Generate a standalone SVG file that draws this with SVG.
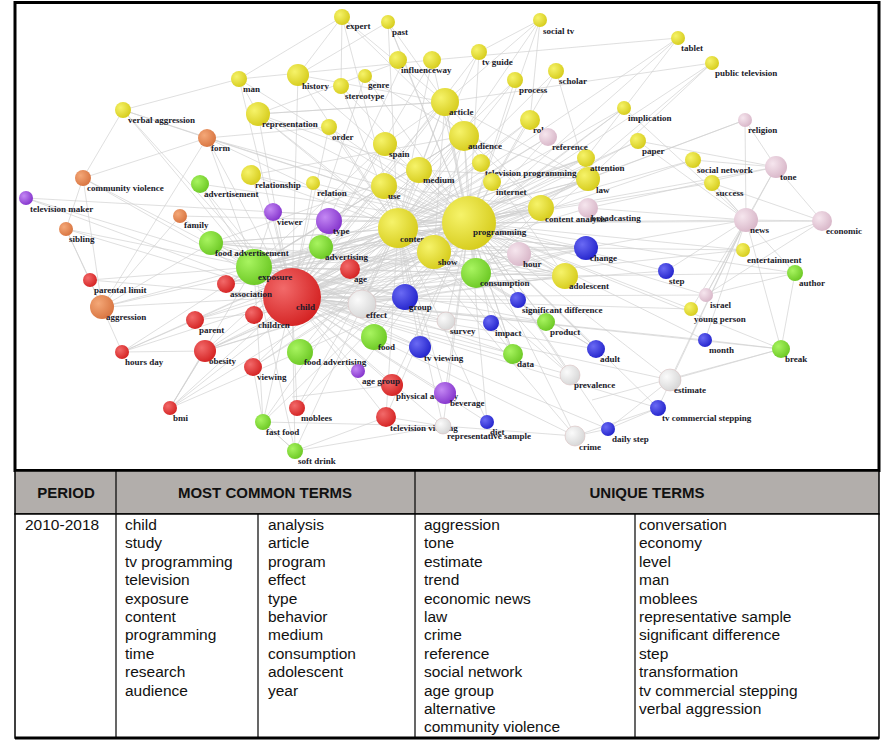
<svg xmlns="http://www.w3.org/2000/svg" width="886" height="741" viewBox="0 0 886 741">
<defs>
<radialGradient id="gy" cx="35%" cy="35%" r="70%"><stop offset="0" stop-color="#f6f36a"/><stop offset="1" stop-color="#d6cc1c"/></radialGradient>
<radialGradient id="gr" cx="35%" cy="35%" r="70%"><stop offset="0" stop-color="#f26a6a"/><stop offset="1" stop-color="#d42222"/></radialGradient>
<radialGradient id="gg" cx="35%" cy="35%" r="70%"><stop offset="0" stop-color="#a8f460"/><stop offset="1" stop-color="#6cc824"/></radialGradient>
<radialGradient id="gb" cx="35%" cy="35%" r="70%"><stop offset="0" stop-color="#6a6af4"/><stop offset="1" stop-color="#2424cc"/></radialGradient>
<radialGradient id="gp" cx="35%" cy="35%" r="70%"><stop offset="0" stop-color="#c488f4"/><stop offset="1" stop-color="#8434cc"/></radialGradient>
<radialGradient id="gk" cx="35%" cy="35%" r="70%"><stop offset="0" stop-color="#f6e6ee"/><stop offset="1" stop-color="#d8b6c8"/></radialGradient>
<radialGradient id="gw" cx="35%" cy="35%" r="70%"><stop offset="0" stop-color="#fbfbfb"/><stop offset="1" stop-color="#d6d6d6"/></radialGradient>
<radialGradient id="go" cx="35%" cy="35%" r="70%"><stop offset="0" stop-color="#f4a878"/><stop offset="1" stop-color="#d87440"/></radialGradient>
</defs>
<style>
.e{stroke:#cfcfcf;stroke-width:0.8;fill:none;opacity:0.85}
.y{fill:url(#gy)}.r{fill:url(#gr)}.g{fill:url(#gg)}.b{fill:url(#gb)}.p{fill:url(#gp)}.k{fill:url(#gk)}.w{fill:url(#gw);stroke:#d8c0c0;stroke-width:0.6}.o{fill:url(#go)}
.l{font-family:"Liberation Serif",serif;font-weight:bold;font-size:9px;fill:#1a1a2a}
.t{font-family:"Liberation Sans",Arial,sans-serif;font-size:15.5px;fill:#111}
.h{font-family:"Liberation Sans",Arial,sans-serif;font-size:15px;font-weight:bold;fill:#111;text-anchor:middle}
</style>
<rect x="0" y="0" width="886" height="741" fill="#fff"/>
<g id="connectors">
<path class="e" d="M292 297L469 223M292 297L398 228M292 297L434 252M292 297L254 267M292 297L464 136M292 297L445 102M292 297L384 186M292 297L419 170M292 297L476 273M292 297L362 304M292 297L405 297M469 223L398 228M469 223L434 252M469 223L254 267M469 223L464 136M469 223L445 102M469 223L384 186M469 223L419 170M469 223L476 273M469 223L362 304M469 223L405 297M398 228L434 252M398 228L254 267M398 228L464 136M398 228L445 102M398 228L476 273M398 228L362 304M398 228L405 297M434 252L254 267M434 252L464 136M434 252L445 102M434 252L384 186M434 252L362 304M254 267L464 136M254 267L384 186M254 267L362 304M254 267L405 297M464 136L384 186M464 136L476 273M445 102L419 170M445 102L476 273M384 186L476 273M419 170L362 304M476 273L405 297M362 304L405 297"/>
<path class="e" d="M342 17L445 102M342 17L398 228M342 17L298 75M342 17L239 79M342 17L464 136M342 17L341 86M388 22L469 223M388 22L445 102M388 22L404 60M388 22L398 228M388 22L298 75M404 60L469 223M404 60L292 297M404 60L258 114M432 60L469 223M432 60L398 228M432 60L292 297M239 79L123 110M239 79L258 114M239 79L469 223M239 79L292 297M239 79L432 60M298 75L469 223M298 75L398 228M298 75L292 297M298 75L445 102M341 86L469 223M341 86L398 228M365 76L469 223M365 76L292 297M365 76L464 136M123 110L207 138M123 110L292 297M123 110L469 223M123 110L254 267M258 114L469 223M258 114L398 228M258 114L292 297M258 114L445 102M258 114L434 252M329 127L469 223M329 127L292 297M329 127L398 228M329 127L207 138M385 144L469 223M385 144L292 297M385 144L254 267M385 144L445 102"/>
<path class="e" d="M540 20L469 223M540 20L445 102M540 20L398 228M540 20L479 52M540 20L530 120M678 38L469 223M678 38L586 158M678 38L398 228M678 38L432 60M712 63L469 223M712 63L541 208M712 63L588 179M712 63L445 102M479 52L469 223M479 52L292 297M479 52L398 228M556 71L469 223M556 71L398 228M556 71L588 179M515 80L469 223M515 80L292 297M515 80L398 228M624 108L469 223M624 108L292 297M624 108L746 220M624 108L434 252M530 120L469 223M530 120L292 297M530 120L398 228M745 120L776 167M745 120L746 220M745 120L469 223M745 120L588 179M548 137L469 223M548 137L292 297M548 137L398 228M638 141L469 223M638 141L292 297M638 141L776 167M638 141L746 220M586 158L469 223M586 158L292 297M586 158L398 228M693 160L776 167M693 160L469 223M693 160L746 220M693 160L292 297M776 167L746 220M776 167L822 221M776 167L469 223M776 167L588 208M776 167L706 295M481 163L292 297M481 163L398 228M588 179L292 297M588 179L398 228M588 179L254 267M492 182L292 297M492 182L254 267M712 183L469 223M712 183L746 220M712 183L822 221M541 208L292 297M541 208L398 228M588 208L292 297M588 208L746 220M746 220L822 221M746 220L469 223M746 220L706 295M746 220L586 248M822 221L469 223M822 221L706 295M822 221L743 250"/>
<path class="e" d="M83 178L123 110M83 178L292 297M83 178L254 267M83 178L207 138M83 178L66 229M83 178L102 307M26 198L292 297M26 198L254 267M26 198L469 223M207 138L292 297M207 138L469 223M207 138L254 267M207 138L398 228M207 138L102 307M200 184L292 297M200 184L469 223M200 184L254 267M251 175L292 297M251 175L469 223M251 175L398 228M313 183L292 297M313 183L469 223M180 216L292 297M180 216L469 223M180 216L102 307M273 212L469 223M273 212L292 297M329 221L469 223M329 221L292 297M66 229L292 297M66 229L254 267M66 229L90 280M66 229L102 307M211 243L292 297M211 243L469 223M211 243L102 307M321 247L469 223M90 280L292 297M90 280L102 307M90 280L254 267M102 307L292 297M102 307L469 223M102 307L122 352M102 307L398 228M226 284L469 223M226 284L398 228M350 269L469 223M195 320L469 223M195 320L398 228M195 320L122 352M254 315L469 223M122 352L292 297M122 352L254 267M122 352L205 351M122 352L398 228M205 351L469 223M205 351L398 228M205 351L170 408M253 367L469 223M253 367L398 228M253 367L263 422M300 352L469 223M300 352L398 228M374 337L469 223M420 347L292 297M420 347L398 228M358 371L292 297M358 371L469 223M392 385L292 397M392 385L292 297M392 385L469 223M170 408L292 297M170 408L254 267M170 408L469 223M170 408L205 351M170 408L300 352M170 408L398 228M297 408L292 297M297 408L469 223M297 408L398 228M263 422L292 297M263 422L398 228M263 422L254 267M263 422L295 451M263 422L469 223M295 451L292 297M295 451L263 422M295 451L254 267M295 451L443 426M295 451L398 228M295 451L386 417M386 417L292 297M386 417L469 223M386 417L398 228"/>
<path class="e" d="M586 248L292 297M586 248L398 228M586 248L254 267M519 254L292 297M519 254L398 228M476 273L254 267M565 276L292 297M565 276L398 228M565 276L254 267M743 250L469 223M743 250L292 297M743 250L586 248M666 271L469 223M666 271L292 297M666 271L746 220M795 273L746 220M795 273L469 223M795 273L781 349M795 273L565 276M795 273L706 295M518 300L292 297M518 300L398 228M706 295L469 223M706 295L292 297M691 309L469 223M691 309L292 297M691 309L746 220M446 321L292 297M446 321L469 223M491 323L292 297M491 323L469 223M546 322L292 297M546 322L469 223M705 340L469 223M705 340L292 297M705 340L746 220M705 340L781 349M596 349L292 297M596 349L469 223M596 349L398 228M781 349L469 223M781 349L592 400M781 349L670 380M781 349L746 220M781 349L292 297M513 354L292 297M513 354L469 223M570 375L292 297M570 375L469 223M570 375L398 228M670 380L469 223M670 380L292 297M670 380L746 220M670 380L608 429M445 393L292 297M445 393L469 223M445 393L398 228M658 408L469 223M658 408L292 297M658 408L575 436M658 408L608 429M658 408L746 220M487 422L292 297M487 422L469 223M487 422L398 228M608 429L469 223M608 429L292 297M608 429L575 436M575 436L469 223M575 436L292 297M575 436L398 228M575 436L443 426M443 426L292 297M443 426L469 223M443 426L398 228M443 426L386 417M443 426L263 422"/>
<path class="e" d="M384 186L207 138M419 170L258 114M445 102L258 114M464 136L251 175M469 223L211 243M398 228L226 284M434 252L195 320M434 252L205 351M434 252L253 367M476 273L300 352M476 273L226 284M476 273L211 243M405 297L195 320M405 297L211 243M362 304L211 243M362 304L205 351M384 186L205 351M419 170L211 243M464 136L226 284M445 102L254 315M541 208L254 267M588 179L205 351M586 248L211 243M519 254L205 351M565 276L211 243M546 322L254 267M513 354L254 267M446 321L254 267M420 347L254 267M374 337L254 267M300 352L254 267M350 269L254 267M321 247L254 267M329 221L254 267M273 212L254 267M469 223L541 208M469 223L588 179M469 223L586 248M469 223L519 254M469 223L565 276M469 223L546 322M469 223L513 354M469 223L596 349M398 228L541 208M398 228L586 158M398 228L586 248M398 228L565 276M434 252L588 179M434 252L541 208M434 252L586 248M434 252L565 276M434 252L596 349M434 252L513 354M476 273L586 248M476 273L565 276M476 273L541 208M476 273L588 179M476 273L570 375M476 273L513 354M464 136L541 208M464 136L588 179M464 136L565 276M445 102L588 179M445 102L541 208M419 170L588 179M419 170L565 276M384 186L541 208M384 186L565 276M405 297L586 248M405 297L565 276M362 304L565 276M362 304L541 208M254 267L541 208M254 267L586 158"/>
</g>
<g id="nodes">
<g id="n-child"><circle class="r" cx="292" cy="297" r="29"/><text class="l" x="296" y="310">child</text></g>
<g id="n-programming"><circle class="y" cx="469" cy="223" r="27"/><text class="l" x="473" y="235">programming</text></g>
<g id="n-content"><circle class="y" cx="398" cy="228" r="20"/><text class="l" x="400" y="242">content</text></g>
<g id="n-exposure"><circle class="g" cx="254" cy="267" r="18"/><text class="l" x="258" y="280">exposure</text></g>
<g id="n-show"><circle class="y" cx="434" cy="252" r="17"/><text class="l" x="438" y="265">show</text></g>
<g id="n-consumption"><circle class="g" cx="476" cy="273" r="15"/><text class="l" x="480" y="286">consumption</text></g>
<g id="n-audience"><circle class="y" cx="464" cy="136" r="15"/><text class="l" x="468" y="149">audience</text></g>
<g id="n-article"><circle class="y" cx="445" cy="102" r="14"/><text class="l" x="449" y="115">article</text></g>
<g id="n-effect"><circle class="w" cx="362" cy="304" r="14"/><text class="l" x="366" y="318">effect</text></g>
<g id="n-medium"><circle class="y" cx="419" cy="170" r="13"/><text class="l" x="423" y="183">medium</text></g>
<g id="n-use"><circle class="y" cx="384" cy="186" r="13"/><text class="l" x="388" y="199">use</text></g>
<g id="n-type"><circle class="p" cx="329" cy="221" r="13"/><text class="l" x="333" y="234">type</text></g>
<g id="n-contentanalysis"><circle class="y" cx="541" cy="208" r="13"/><text class="l" x="545" y="222">content analysis</text></g>
<g id="n-adolescent"><circle class="y" cx="565" cy="276" r="13"/><text class="l" x="569" y="289">adolescent</text></g>
<g id="n-food"><circle class="g" cx="374" cy="337" r="13"/><text class="l" x="378" y="350">food</text></g>
<g id="n-foodadvertising"><circle class="g" cx="300" cy="352" r="13"/><text class="l" x="304" y="365">food advertising</text></g>
<g id="n-group"><circle class="b" cx="405" cy="297" r="13"/><text class="l" x="409" y="310">group</text></g>
<g id="n-representation"><circle class="y" cx="258" cy="114" r="12"/><text class="l" x="262" y="127">representation</text></g>
<g id="n-spain"><circle class="y" cx="385" cy="144" r="12"/><text class="l" x="389" y="157">spain</text></g>
<g id="n-law"><circle class="y" cx="588" cy="179" r="12"/><text class="l" x="596" y="193">law</text></g>
<g id="n-foodadvertisement"><circle class="g" cx="211" cy="243" r="12"/><text class="l" x="215" y="256">food advertisement</text></g>
<g id="n-advertising"><circle class="g" cx="321" cy="247" r="12"/><text class="l" x="325" y="260">advertising</text></g>
<g id="n-hour"><circle class="k" cx="519" cy="254" r="12"/><text class="l" x="523" y="267">hour</text></g>
<g id="n-change"><circle class="b" cx="586" cy="248" r="12"/><text class="l" x="590" y="261">change</text></g>
<g id="n-news"><circle class="k" cx="746" cy="220" r="12"/><text class="l" x="750" y="233">news</text></g>
<g id="n-aggression"><circle class="o" cx="102" cy="307" r="12"/><text class="l" x="106" y="320">aggression</text></g>
<g id="n-history"><circle class="y" cx="298" cy="75" r="11"/><text class="l" x="302" y="89">history</text></g>
<g id="n-tone"><circle class="k" cx="776" cy="167" r="11"/><text class="l" x="780" y="180">tone</text></g>
<g id="n-estimate"><circle class="w" cx="670" cy="380" r="11"/><text class="l" x="674" y="393">estimate</text></g>
<g id="n-tvviewing"><circle class="b" cx="420" cy="347" r="11"/><text class="l" x="424" y="361">tv viewing</text></g>
<g id="n-obesity"><circle class="r" cx="205" cy="351" r="11"/><text class="l" x="209" y="364">obesity</text></g>
<g id="n-physicalactivity"><circle class="r" cx="392" cy="385" r="11"/><text class="l" x="396" y="399">physical activity</text></g>
<g id="n-beverage"><circle class="p" cx="445" cy="393" r="11"/><text class="l" x="450" y="406">beverage</text></g>
<g id="n-relationship"><circle class="y" cx="251" cy="175" r="10"/><text class="l" x="255" y="188">relationship</text></g>
<g id="n-role"><circle class="y" cx="530" cy="120" r="10"/><text class="l" x="533" y="133">role</text></g>
<g id="n-broadcasting"><circle class="k" cx="588" cy="208" r="10"/><text class="l" x="591" y="221">broadcasting</text></g>
<g id="n-economic"><circle class="k" cx="822" cy="221" r="10"/><text class="l" x="826" y="234">economic</text></g>
<g id="n-data"><circle class="g" cx="513" cy="354" r="10"/><text class="l" x="517" y="367">data</text></g>
<g id="n-prevalence"><circle class="w" cx="570" cy="375" r="10"/><text class="l" x="574" y="388">prevalence</text></g>
<g id="n-crime"><circle class="w" cx="575" cy="436" r="10"/><text class="l" x="579" y="450">crime</text></g>
<g id="n-age"><circle class="r" cx="350" cy="269" r="10"/><text class="l" x="354" y="282">age</text></g>
<g id="n-televisionviewing"><circle class="r" cx="386" cy="417" r="10"/><text class="l" x="390" y="431">television viewing</text></g>
<g id="n-influence"><circle class="y" cx="398" cy="60" r="9"/><text class="l" x="401" y="73">influence</text></g>
<g id="n-way"><circle class="y" cx="432" cy="60" r="9"/><text class="l" x="436" y="73">way</text></g>
<g id="n-attention"><circle class="y" cx="586" cy="158" r="9"/><text class="l" x="590" y="171">attention</text></g>
<g id="n-tvprogramming"><circle class="y" cx="481" cy="163" r="9"/><text class="l" x="485" y="176">television programming</text></g>
<g id="n-internet"><circle class="y" cx="492" cy="182" r="9"/><text class="l" x="496" y="195">internet</text></g>
<g id="n-form"><circle class="o" cx="207" cy="138" r="9"/><text class="l" x="211" y="151">form</text></g>
<g id="n-viewer"><circle class="p" cx="273" cy="212" r="9"/><text class="l" x="277" y="225">viewer</text></g>
<g id="n-advertisement"><circle class="g" cx="200" cy="184" r="9"/><text class="l" x="204" y="197">advertisement</text></g>
<g id="n-reference"><circle class="k" cx="548" cy="137" r="9"/><text class="l" x="552" y="150">reference</text></g>
<g id="n-survey"><circle class="w" cx="446" cy="321" r="9"/><text class="l" x="450" y="334">survey</text></g>
<g id="n-product"><circle class="g" cx="546" cy="322" r="9"/><text class="l" x="550" y="335">product</text></g>
<g id="n-adult"><circle class="b" cx="596" cy="349" r="9"/><text class="l" x="600" y="362">adult</text></g>
<g id="n-break"><circle class="g" cx="781" cy="349" r="9"/><text class="l" x="785" y="362">break</text></g>
<g id="n-association"><circle class="r" cx="226" cy="284" r="9"/><text class="l" x="230" y="297">association</text></g>
<g id="n-parent"><circle class="r" cx="195" cy="320" r="9"/><text class="l" x="199" y="333">parent</text></g>
<g id="n-children"><circle class="r" cx="254" cy="315" r="9"/><text class="l" x="258" y="328">children</text></g>
<g id="n-viewing"><circle class="r" cx="253" cy="367" r="9"/><text class="l" x="257" y="380">viewing</text></g>
<g id="n-expert"><circle class="y" cx="342" cy="17" r="8"/><text class="l" x="346" y="29">expert</text></g>
<g id="n-man"><circle class="y" cx="239" cy="79" r="8"/><text class="l" x="243" y="92">man</text></g>
<g id="n-stereotype"><circle class="y" cx="341" cy="86" r="8"/><text class="l" x="345" y="99">stereotype</text></g>
<g id="n-verbal"><circle class="y" cx="123" cy="110" r="8"/><text class="l" x="128" y="123">verbal aggression</text></g>
<g id="n-order"><circle class="y" cx="329" cy="127" r="8"/><text class="l" x="332" y="140">order</text></g>
<g id="n-tvguide"><circle class="y" cx="479" cy="52" r="8"/><text class="l" x="482" y="65">tv guide</text></g>
<g id="n-scholar"><circle class="y" cx="556" cy="71" r="8"/><text class="l" x="559" y="84">scholar</text></g>
<g id="n-process"><circle class="y" cx="515" cy="80" r="8"/><text class="l" x="519" y="93">process</text></g>
<g id="n-paper"><circle class="y" cx="638" cy="141" r="8"/><text class="l" x="642" y="154">paper</text></g>
<g id="n-socialnetwork"><circle class="y" cx="693" cy="160" r="8"/><text class="l" x="697" y="173">social network</text></g>
<g id="n-success"><circle class="y" cx="712" cy="183" r="8"/><text class="l" x="716" y="196">success</text></g>
<g id="n-communityviolence"><circle class="o" cx="83" cy="178" r="8"/><text class="l" x="87" y="191">community violence</text></g>
<g id="n-step"><circle class="b" cx="666" cy="271" r="8"/><text class="l" x="669" y="284">step</text></g>
<g id="n-author"><circle class="g" cx="795" cy="273" r="8"/><text class="l" x="799" y="286">author</text></g>
<g id="n-sigdiff"><circle class="b" cx="518" cy="300" r="8"/><text class="l" x="522" y="313">significant difference</text></g>
<g id="n-impact"><circle class="b" cx="491" cy="323" r="8"/><text class="l" x="495" y="336">impact</text></g>
<g id="n-tvcommercial"><circle class="b" cx="658" cy="408" r="8"/><text class="l" x="662" y="421">tv commercial stepping</text></g>
<g id="n-moblees"><circle class="r" cx="297" cy="408" r="8"/><text class="l" x="301" y="421">moblees</text></g>
<g id="n-fastfood"><circle class="g" cx="263" cy="422" r="8"/><text class="l" x="266" y="435">fast food</text></g>
<g id="n-repsample"><circle class="w" cx="443" cy="426" r="8"/><text class="l" x="447" y="439">representative sample</text></g>
<g id="n-softdrink"><circle class="g" cx="295" cy="451" r="8"/><text class="l" x="298" y="464">soft drink</text></g>
<g id="n-past"><circle class="y" cx="388" cy="22" r="7"/><text class="l" x="392" y="35">past</text></g>
<g id="n-genre"><circle class="y" cx="365" cy="76" r="7"/><text class="l" x="368" y="88">genre</text></g>
<g id="n-relation"><circle class="y" cx="313" cy="183" r="7"/><text class="l" x="317" y="196">relation</text></g>
<g id="n-socialtv"><circle class="y" cx="540" cy="20" r="7"/><text class="l" x="543" y="34">social tv</text></g>
<g id="n-tablet"><circle class="y" cx="678" cy="38" r="7"/><text class="l" x="681" y="51">tablet</text></g>
<g id="n-publictv"><circle class="y" cx="712" cy="63" r="7"/><text class="l" x="715" y="76">public television</text></g>
<g id="n-implication"><circle class="y" cx="624" cy="108" r="7"/><text class="l" x="628" y="121">implication</text></g>
<g id="n-entertainment"><circle class="y" cx="743" cy="250" r="7"/><text class="l" x="747" y="263">entertainment</text></g>
<g id="n-youngperson"><circle class="y" cx="691" cy="309" r="7"/><text class="l" x="694" y="322">young person</text></g>
<g id="n-family"><circle class="o" cx="180" cy="216" r="7"/><text class="l" x="184" y="228">family</text></g>
<g id="n-sibling"><circle class="o" cx="66" cy="229" r="7"/><text class="l" x="69" y="242">sibling</text></g>
<g id="n-tvmaker"><circle class="p" cx="26" cy="198" r="7"/><text class="l" x="30" y="212">television maker</text></g>
<g id="n-agegroup"><circle class="p" cx="358" cy="371" r="7"/><text class="l" x="362" y="384">age group</text></g>
<g id="n-religion"><circle class="k" cx="745" cy="120" r="7"/><text class="l" x="748" y="133">religion</text></g>
<g id="n-israel"><circle class="k" cx="706" cy="295" r="7"/><text class="l" x="710" y="308">israel</text></g>
<g id="n-month"><circle class="b" cx="705" cy="340" r="7"/><text class="l" x="709" y="353">month</text></g>
<g id="n-dailystep"><circle class="b" cx="608" cy="429" r="7"/><text class="l" x="612" y="442">daily step</text></g>
<g id="n-diet"><circle class="b" cx="487" cy="422" r="7"/><text class="l" x="490" y="435">diet</text></g>
<g id="n-parentallimit"><circle class="r" cx="90" cy="280" r="7"/><text class="l" x="94" y="293">parental limit</text></g>
<g id="n-hoursday"><circle class="r" cx="122" cy="352" r="7"/><text class="l" x="125" y="365">hours day</text></g>
<g id="n-bmi"><circle class="r" cx="170" cy="408" r="7"/><text class="l" x="173" y="421">bmi</text></g>
</g>
<rect x="15" y="2.5" width="864" height="468" fill="none" stroke="#000" stroke-width="3"/>
<g id="table">
<rect x="15" y="471" width="864" height="43" fill="#b2aeab" stroke="#000" stroke-width="1.5"/>
<rect x="15" y="514" width="864" height="224" fill="#fff" stroke="#000" stroke-width="1.5"/>
<line x1="116" y1="471" x2="116" y2="738" stroke="#000" stroke-width="1.2"/>
<line x1="415" y1="471" x2="415" y2="738" stroke="#000" stroke-width="1.2"/>
<line x1="258" y1="514" x2="258" y2="738" stroke="#000" stroke-width="1.2"/>
<line x1="635" y1="514" x2="635" y2="738" stroke="#000" stroke-width="1.2"/>
<line x1="15" y1="738" x2="879" y2="738" stroke="#000" stroke-width="3"/>
<text class="h" x="66" y="498">PERIOD</text>
<text class="h" x="265" y="498">MOST COMMON TERMS</text>
<text class="h" x="647" y="498">UNIQUE TERMS</text>
<text class="t" x="25" y="530">2010-2018</text>
<text class="t" x="125" y="530"><tspan x="125" dy="0">child</tspan><tspan x="125" dy="18.4">study</tspan><tspan x="125" dy="18.4">tv programming</tspan><tspan x="125" dy="18.4">television</tspan><tspan x="125" dy="18.4">exposure</tspan><tspan x="125" dy="18.4">content</tspan><tspan x="125" dy="18.4">programming</tspan><tspan x="125" dy="18.4">time</tspan><tspan x="125" dy="18.4">research</tspan><tspan x="125" dy="18.4">audience</tspan></text>
<text class="t" x="268" y="530"><tspan x="268" dy="0">analysis</tspan><tspan x="268" dy="18.4">article</tspan><tspan x="268" dy="18.4">program</tspan><tspan x="268" dy="18.4">effect</tspan><tspan x="268" dy="18.4">type</tspan><tspan x="268" dy="18.4">behavior</tspan><tspan x="268" dy="18.4">medium</tspan><tspan x="268" dy="18.4">consumption</tspan><tspan x="268" dy="18.4">adolescent</tspan><tspan x="268" dy="18.4">year</tspan></text>
<text class="t" x="424" y="530"><tspan x="424" dy="0">aggression</tspan><tspan x="424" dy="18.4">tone</tspan><tspan x="424" dy="18.4">estimate</tspan><tspan x="424" dy="18.4">trend</tspan><tspan x="424" dy="18.4">economic news</tspan><tspan x="424" dy="18.4">law</tspan><tspan x="424" dy="18.4">crime</tspan><tspan x="424" dy="18.4">reference</tspan><tspan x="424" dy="18.4">social network</tspan><tspan x="424" dy="18.4">age group</tspan><tspan x="424" dy="18.4">alternative</tspan><tspan x="424" dy="18.4">community violence</tspan></text>
<text class="t" x="639" y="530"><tspan x="639" dy="0">conversation</tspan><tspan x="639" dy="18.4">economy</tspan><tspan x="639" dy="18.4">level</tspan><tspan x="639" dy="18.4">man</tspan><tspan x="639" dy="18.4">moblees</tspan><tspan x="639" dy="18.4">representative sample</tspan><tspan x="639" dy="18.4">significant difference</tspan><tspan x="639" dy="18.4">step</tspan><tspan x="639" dy="18.4">transformation</tspan><tspan x="639" dy="18.4">tv commercial stepping</tspan><tspan x="639" dy="18.4">verbal aggression</tspan></text>
</g>
</svg>
